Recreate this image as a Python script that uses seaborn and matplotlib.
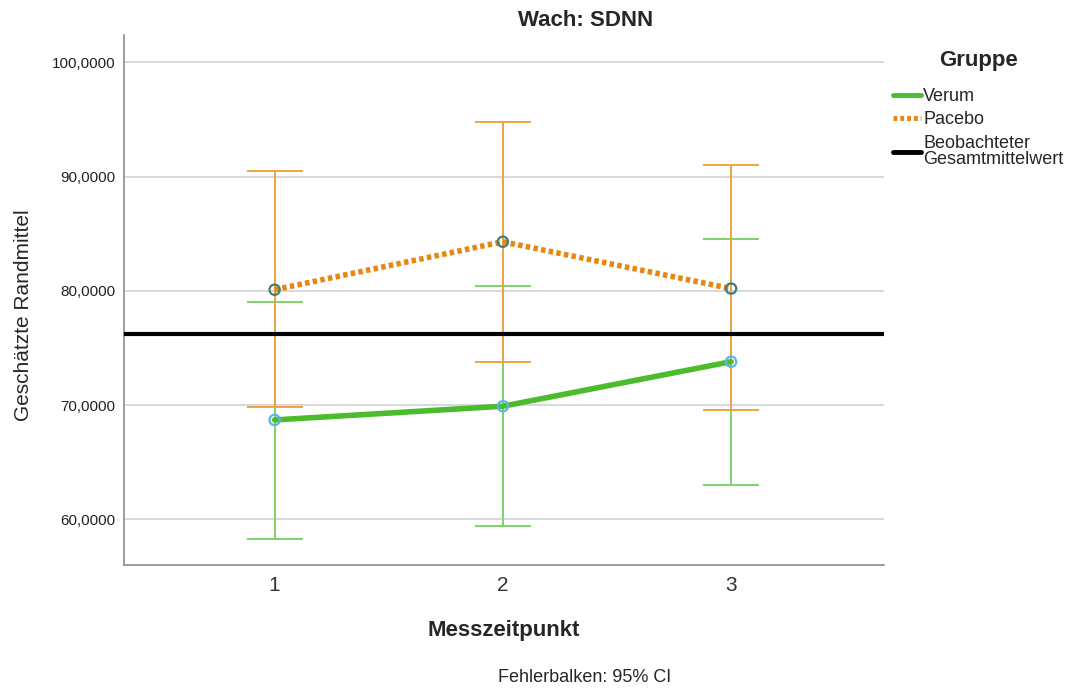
import matplotlib
matplotlib.use("Agg")
import matplotlib.pyplot as plt
from matplotlib.lines import Line2D
import seaborn as sns
import pandas as pd

zeitpunkte = [1, 2, 3]
verum_mean = [68.7, 69.9, 73.8]
verum_low = [58.3, 59.4, 63.0]
verum_high = [79.0, 80.4, 84.5]
pacebo_mean = [80.1, 84.3, 80.2]
pacebo_low = [69.8, 73.8, 69.6]
pacebo_high = [90.5, 94.8, 91.0]
gesamtmittel = 76.2
y_ticks = [60, 70, 80, 90, 100]

sns.set_style("white")
plt.rcParams["font.family"] = ["Liberation Sans", "DejaVu Sans"]

df = pd.DataFrame({
    "Messzeitpunkt": zeitpunkte * 2,
    "Randmittel": verum_mean + pacebo_mean,
    "Gruppe": ["Verum"] * 3 + ["Pacebo"] * 3,
})

fig = plt.figure(figsize=(10.72, 6.92), dpi=100)
ax = fig.add_axes([124 / 1072, 1 - 565 / 692, 760 / 1072, 530 / 692])

green_line = "#4cbb2c"
green_err = "#7ed26a"
orange_line = "#e8860f"
orange_err = "#eba446"

for y in y_ticks:
    ax.axhline(y, color="#d2d2d2", lw=1.2, zorder=0)

def ci_bars(means, low, high, color):
    err = [[m - l for m, l in zip(means, low)], [h - m for m, h in zip(means, high)]]
    ax.errorbar(zeitpunkte, means, yerr=err, fmt="none", ecolor=color,
                elinewidth=1.4, capsize=20, capthick=1.4, zorder=2)

ci_bars(verum_mean, verum_low, verum_high, green_err)
ci_bars(pacebo_mean, pacebo_low, pacebo_high, orange_err)

ax.axhline(gesamtmittel, color="black", lw=3, zorder=3)

sns.lineplot(data=df[df.Gruppe == "Verum"], x="Messzeitpunkt", y="Randmittel",
             color=green_line, lw=4, ax=ax, zorder=4, legend=False)
sns.lineplot(data=df[df.Gruppe == "Pacebo"], x="Messzeitpunkt", y="Randmittel",
             color=orange_line, lw=4, ax=ax, zorder=4, legend=False)
ax.lines[-1].set_linestyle((0, (0.8, 0.6)))

ax.scatter(zeitpunkte, verum_mean, s=55, facecolors="none", edgecolors="#5bb4e8",
           linewidths=1.6, zorder=5)
ax.scatter(zeitpunkte, pacebo_mean, s=55, facecolors="none", edgecolors="#3f7f7a",
           linewidths=1.6, zorder=5)

ax.set_xlim(0.34, 3.67)
ax.set_ylim(56.0, 102.4)
ax.set_xticks(zeitpunkte)
ax.set_xticklabels([str(z) for z in zeitpunkte], fontsize=15, color="#333333")
ax.set_yticks(y_ticks)
ax.set_yticklabels([f"{v},0000" for v in y_ticks], fontsize=11, color="#222222")
ax.tick_params(axis="both", length=0, pad=6)
ax.tick_params(axis="x", pad=8)
for s in ["top", "right"]:
    ax.spines[s].set_visible(False)
for s in ["left", "bottom"]:
    ax.spines[s].set_color("#8c8c8c")
    ax.spines[s].set_linewidth(1.2)

ax.set_xlabel("Messzeitpunkt", fontsize=16, fontweight="bold", labelpad=18)
ax.set_ylabel("Geschätzte Randmittel", fontsize=15)
ax.yaxis.set_label_coords(-0.1197, 0.471)

fig.text(586 / 1072, 1 - 20 / 692, "Wach: SDNN", ha="center", va="center",
         fontsize=16, fontweight="bold")
fig.text(585 / 1072, 1 - 677 / 692, "Fehlerbalken: 95% CI", ha="center",
         va="center", fontsize=13)

handles = [
    Line2D([], [], color=green_line, lw=3.5),
    Line2D([], [], color=orange_line, lw=3.5, linestyle=(0, (0.8, 0.6))),
    Line2D([], [], color="black", lw=3.5),
]
labels = ["Verum", "Pacebo", "Beobachteter\nGesamtmittelwert"]
leg = fig.legend(handles, labels, title="Gruppe", loc="upper left",
                 bbox_to_anchor=(879 / 1072, 1 - 36 / 692), frameon=False,
                 fontsize=13, handlelength=1.5, handletextpad=0.15,
                 labelspacing=0.35, borderpad=0.3,
                 title_fontproperties={"weight": "bold", "size": 16})
leg._legend_box.sep = 12
for t in leg.get_texts():
    t.set_linespacing(0.95)

fig.savefig("out.png", dpi=100)
